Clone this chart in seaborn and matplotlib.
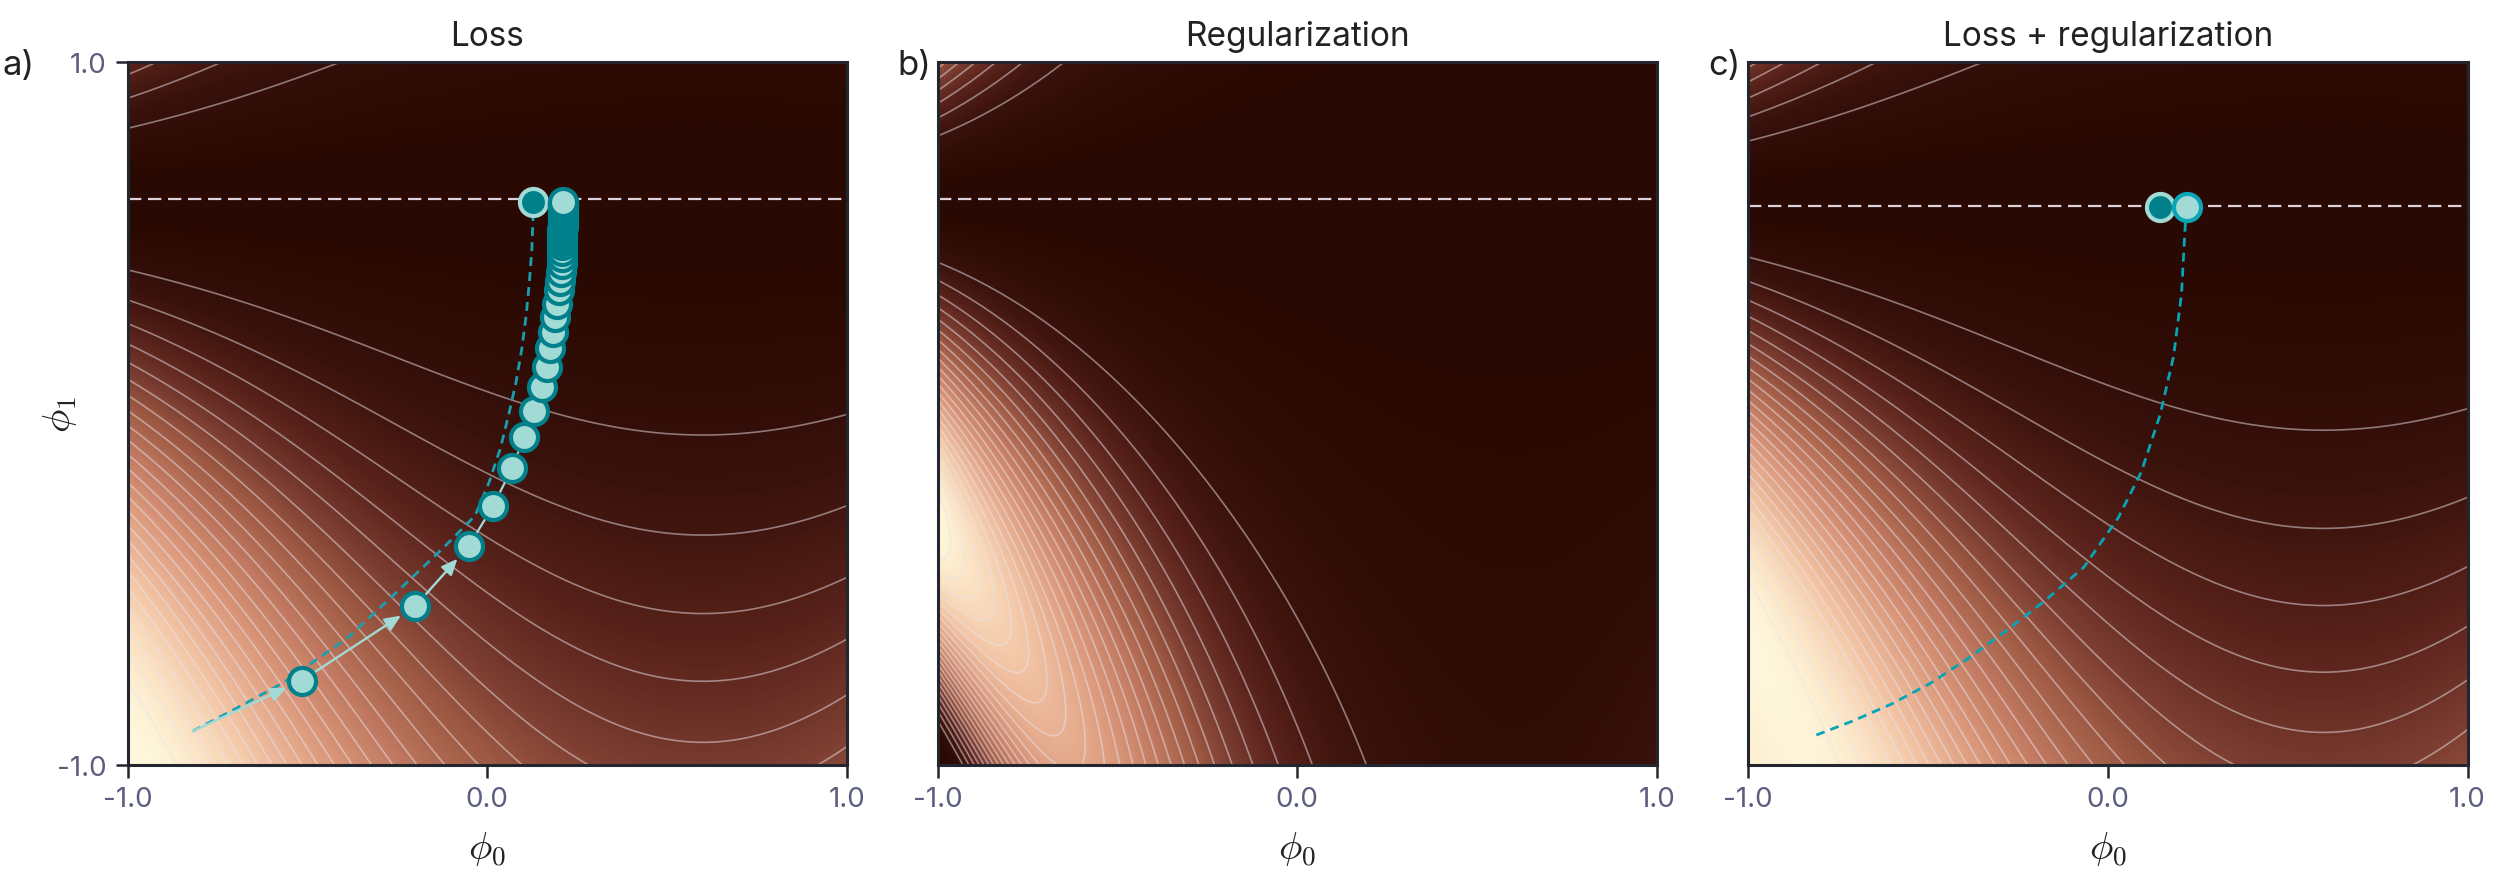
import numpy as np
import matplotlib
matplotlib.use("Agg")
import matplotlib.pyplot as plt
from matplotlib.colors import LinearSegmentedColormap
import seaborn as sns

# ---- values ----
titles = ["Loss", "Regularization", "Loss + regularization"]
letters = ["a)", "b)", "c)"]
tick_vals = [-1.0, 0.0, 1.0]
tick_labels = ["-1.0", "0.0", "1.0"]
valley_a = 0.61          # line of minima drawn in a) and b)
valley_c = 0.59          # line of minima drawn in c)

# discrete gradient descent steps (panel a), first entry is the start point
gd_phi0 = [-0.819, -0.516, -0.201, -0.052, 0.017, 0.069, 0.102, 0.131, 0.151,
           0.165, 0.174, 0.182, 0.189, 0.195, 0.1995, 0.202, 0.205, 0.207,
           0.2075, 0.208, 0.2083, 0.2086, 0.2088, 0.209, 0.2091, 0.2092, 0.2093,
           0.2094, 0.2095, 0.2095, 0.2096, 0.2096, 0.2096, 0.2097, 0.2097, 0.2097,
           0.2097, 0.2097, 0.2097, 0.2097, 0.2097]
gd_phi1 = [-0.904, -0.760, -0.549, -0.378, -0.262, -0.155, -0.068, 0.006, 0.076,
           0.131, 0.186, 0.233, 0.274, 0.312, 0.350, 0.378, 0.402, 0.425,
           0.445, 0.463, 0.478, 0.491, 0.502, 0.512, 0.521, 0.530, 0.538,
           0.545, 0.552, 0.558, 0.564, 0.569, 0.574, 0.578, 0.582, 0.586,
           0.589, 0.592, 0.595, 0.598, 0.601]

# continuous gradient flow on the loss (panel a)
flow_a_phi0 = [-0.819, -0.70, -0.570, -0.390, -0.239, -0.120, -0.034, 0.005,
               0.036, 0.059, 0.080, 0.096, 0.108, 0.117, 0.124, 0.127, 0.128]
flow_a_phi1 = [-0.904, -0.840, -0.768, -0.640, -0.496, -0.380, -0.291, -0.196,
               -0.101, -0.006, 0.089, 0.184, 0.278, 0.373, 0.468, 0.550, 0.601]
end_a = (0.128, 0.601)

# continuous gradient flow on loss + regularization (panel c)
flow_c_phi0 = [-0.810, -0.803, -0.707, -0.600, -0.494, -0.388, -0.278, -0.174,
               -0.067, 0.029, 0.093, 0.146, 0.183, 0.205, 0.215, 0.219]
flow_c_phi1 = [-0.915, -0.912, -0.874, -0.826, -0.768, -0.697, -0.615, -0.532,
               -0.438, -0.297, -0.167, -0.002, 0.163, 0.340, 0.529, 0.588]
end_c_dark = (0.146, 0.588)
end_c_light = (0.219, 0.588)

# ---- surfaces ----
n = 500
p0, p1 = np.meshgrid(np.linspace(-1, 1, n), np.linspace(-1, 1, n))
k = 0.6 + 0.347 * (0.6 - p0) ** 2 + 0.078 * (0.6 - p0) ** 4
loss = 1 - np.cos(k * (p1 - valley_a))
d1, d0 = np.gradient(loss, 2 / (n - 1), 2 / (n - 1))
reg = d0 ** 2 + d1 ** 2
total = loss + 0.06 * reg

cmap = LinearSegmentedColormap.from_list(
    "brown", [(0.0, "#2a0903"), (0.06, "#3a120c"), (0.14, "#5a231b"),
              (0.22, "#7a3c30"), (0.30, "#9c5842"), (0.42, "#bf785f"),
              (0.56, "#da977b"), (0.75, "#f1c2a2"), (0.9, "#fbe3c4"),
              (1.0, "#fff8dc")])

sns.set_theme(style="white")
plt.rcParams["font.family"] = ["Inter", "DejaVu Sans"]
plt.rcParams["mathtext.fontset"] = "cm"

fig = plt.figure(figsize=(25.05, 8.79), dpi=100)
lefts = [127.5 / 2505, 937.5 / 2505, 1748 / 2505]
axes = [fig.add_axes([l, 113 / 879, 719.5 / 2505, 703 / 879]) for l in lefts]

reg_start = reg[0, -1] * 1.03
fields = [loss, reg, total]
level_sets = [np.arange(0.08, 2.2, 0.08),
              np.linspace(reg_start, reg.max(), 24),
              np.arange(0.08, 3.0, 0.08)]

tick_col = "#5b5e7e"
spine_col = "#23262f"
teal = "#00808b"
pale = "#a2dad5"

for i, ax in enumerate(axes):
    f = fields[i]
    ax.imshow(f, extent=[-1, 1, -1, 1], origin="lower", cmap=cmap,
              vmin=0, vmax=f.max(), aspect="auto", interpolation="bilinear")
    ax.contour(p0, p1, f, levels=level_sets[i], colors="#eae3ea",
               linewidths=1.2, alpha=0.5)
    vy = valley_c if i == 2 else valley_a
    ax.axhline(vy, color="#ddd2dc", lw=1.6, ls=(0, (6, 3)))
    ax.set_xlim(-1, 1)
    ax.set_ylim(-1, 1)
    ax.set_xticks(tick_vals)
    ax.set_xticklabels(tick_labels)
    if i == 0:
        ax.set_yticks([-1.0, 1.0])
        ax.set_yticklabels(["-1.0", "1.0"])
        ax.set_ylabel(r"$\phi_1$", fontsize=28, color="#222", labelpad=-16)
    else:
        ax.set_yticks([])
    ax.set_xlabel(r"$\phi_0$", fontsize=28, color="#222", labelpad=13)
    ax.tick_params(axis="both", colors=spine_col, labelcolor=tick_col,
                   labelsize=20, length=9, width=1.8, direction="out",
                   bottom=True, left=(i == 0), pad=6)
    for s in ax.spines.values():
        s.set_color(spine_col)
        s.set_linewidth(2.2)
    ax.set_title(titles[i], fontsize=24, color="#222", pad=12)
    fig.text(lefts[i] - (0.050 if i == 0 else 0.016), 0.925, letters[i],
             fontsize=25, color="#222", ha="left", va="center")

# panel a: continuous flow, discrete steps
ax = axes[0]
sns.lineplot(x=flow_a_phi0, y=flow_a_phi1, sort=False, estimator=None, ax=ax,
             color="#1a9fb0", lw=2.0, ls=(0, (3.2, 2.2)))
sns.lineplot(x=gd_phi0[3:], y=gd_phi1[3:], sort=False, estimator=None, ax=ax,
             color=pale, lw=1.6)
for j in range(3):
    ax.annotate("", xy=(gd_phi0[j + 1], gd_phi1[j + 1]),
                xytext=(gd_phi0[j], gd_phi1[j]),
                arrowprops=dict(arrowstyle="-|>,head_length=0.8,head_width=0.35",
                                color=pale, lw=1.7,
                                shrinkA=0 if j == 0 else 12, shrinkB=12))
sns.scatterplot(x=[end_a[0]], y=[end_a[1]], ax=ax, s=380, color=teal,
                edgecolor=pale, linewidth=3, zorder=5)
sns.scatterplot(x=gd_phi0[1:], y=gd_phi1[1:], ax=ax, s=380, color=pale,
                edgecolor=teal, linewidth=3, zorder=6)

# panel c: flow on the regularized loss
ax = axes[2]
sns.lineplot(x=flow_c_phi0, y=flow_c_phi1, sort=False, estimator=None, ax=ax,
             color="#06a6b6", lw=2.0, ls=(0, (3.2, 2.2)))
sns.scatterplot(x=[end_c_dark[0]], y=[end_c_dark[1]], ax=ax, s=380, color=teal,
                edgecolor=pale, linewidth=3, zorder=5)
sns.scatterplot(x=[end_c_light[0]], y=[end_c_light[1]], ax=ax, s=380,
                color=pale, edgecolor="#0aa6b5", linewidth=3, zorder=6)

for ax in axes:
    leg = ax.get_legend()
    if leg:
        leg.remove()

fig.savefig("out.png", dpi=100)
